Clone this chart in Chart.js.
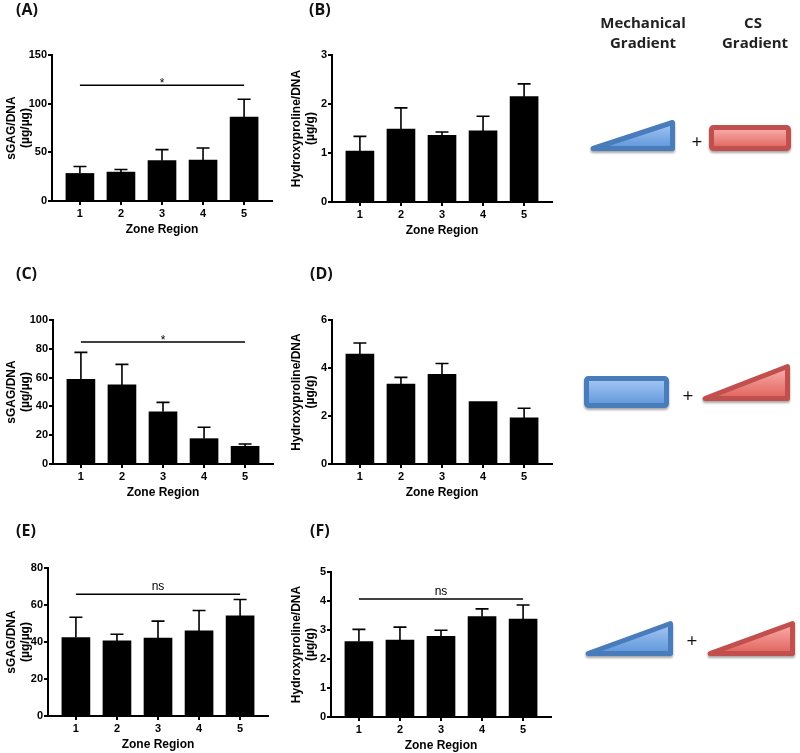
<!DOCTYPE html>
<html>
<head>
<meta charset="utf-8">
<script src="https://cdn.jsdelivr.net/npm/chart.js@4.4.1/dist/chart.umd.min.js"></script>
<style>
  body { margin: 0; background: #fff; }
  #figure { position: relative; width: 800px; height: 753px; overflow: hidden; background: #fff; }
  #figure canvas { position: absolute; }
  #figure svg { position: absolute; left: 0; top: 0; pointer-events: none; }
</style>
</head>
<body>
<div id="figure">
  <canvas id="chartA"></canvas>
  <canvas id="chartB"></canvas>
  <canvas id="chartC"></canvas>
  <canvas id="chartD"></canvas>
  <canvas id="chartE"></canvas>
  <canvas id="chartF"></canvas>
  <svg width="800" height="753">
    <defs>
      <linearGradient id="blueFill" x1="0" y1="0" x2="0" y2="1">
        <stop offset="0" stop-color="#a6c8f4"/>
        <stop offset="1" stop-color="#5f96da"/>
      </linearGradient>
      <linearGradient id="redFill" x1="0" y1="0" x2="0" y2="1">
        <stop offset="0" stop-color="#fbb0ac"/>
        <stop offset="1" stop-color="#e0635e"/>
      </linearGradient>
      <filter id="shadow" x="-10%" y="-30%" width="120%" height="170%">
        <feDropShadow dx="0" dy="2" stdDeviation="1.3" flood-opacity="0.35"/>
      </filter>
    </defs>

    <g font-family="'Open Sans', sans-serif" font-weight="bold" font-size="16" fill="#111">
      <text x="16" y="15">(A)</text>
      <text x="309" y="15">(B)</text>
      <text x="16" y="279">(C)</text>
      <text x="310" y="279">(D)</text>
      <text x="16" y="536">(E)</text>
      <text x="310" y="536">(F)</text>
    </g>

    <g font-family="'Open Sans', sans-serif" font-weight="bold" font-size="15" fill="#222" text-anchor="middle">
      <text x="643" y="28">Mechanical</text>
      <text x="643" y="48">Gradient</text>
      <text x="753" y="28">CS</text>
      <text x="755" y="48">Gradient</text>
    </g>

    <g stroke-width="5" stroke-linejoin="round" filter="url(#shadow)">
      <!-- row 1: ramp + uniform -->
      <polygon points="593,148.5 672.5,122.5 672.5,148.5" fill="url(#blueFill)" stroke="#4a7bbb"/>
      <rect x="711.5" y="127.5" width="77" height="21" rx="2" fill="url(#redFill)" stroke="#c0504d"/>
      <!-- row 2: uniform + ramp -->
      <rect x="586.5" y="378.5" width="80" height="27" rx="2" fill="url(#blueFill)" stroke="#4a7bbb"/>
      <polygon points="705,398.5 787.5,366.5 787.5,398.5" fill="url(#redFill)" stroke="#c0504d"/>
      <!-- row 3: ramp + ramp -->
      <polygon points="588,653.5 670.5,623.5 670.5,653.5" fill="url(#blueFill)" stroke="#4a7bbb"/>
      <polygon points="710,653.5 792.5,623.5 792.5,653.5" fill="url(#redFill)" stroke="#c0504d"/>
    </g>

    <g font-family="'Open Sans', sans-serif" font-size="19" fill="#111" text-anchor="middle">
      <text x="697" y="148">+</text>
      <text x="688" y="402">+</text>
      <text x="692" y="647">+</text>
    </g>
  </svg>
</div>

<script>
// Zone regions along the scaffold
const zones = ['1', '2', '3', '4', '5'];

// (A)/(B) mechanical gradient + uniform CS
const sgagA = [28.3, 29.7, 41.4, 42.0, 86.2];
const sgagAErr = [7.2, 2.7, 11.4, 12.5, 18.3];
const hypB = [1.04, 1.49, 1.36, 1.45, 2.15];
const hypBErr = [0.30, 0.43, 0.07, 0.30, 0.26];

// (C)/(D) uniform mechanics + CS gradient
const sgagC = [58.8, 54.9, 36.3, 17.6, 12.3];
const sgagCErr = [18.7, 14.3, 6.5, 7.9, 1.6];
const hypD = [4.58, 3.33, 3.74, 2.60, 1.92];
const hypDErr = [0.46, 0.28, 0.45, 0, 0.40];

// (E)/(F) both gradients
const sgagE = [42.4, 40.6, 42.1, 46.0, 54.1];
const sgagEErr = [11.0, 3.6, 9.2, 11.0, 8.9];
const hypF = [2.60, 2.65, 2.78, 3.46, 3.38];
const hypFErr = [0.42, 0.45, 0.21, 0.27, 0.48];

// significance bars (zone 1 vs zone 5)
const sigA = { value: 119, label: '*' };
const sigC = { value: 84.7, label: '*' };
const sigE = { value: 65.8, label: 'ns' };
const sigF = { value: 4.07, label: 'ns' };

const sgagTitle = ['sGAG/DNA', '(µg/µg)'];
const hypTitle = ['Hydroxyproline/DNA', '(µg/g)'];

// where each canvas sits on the page
const boxes = {
    chartA: { x: 4, y: 43, yw: 48, plotH: 146 },
    chartB: { x: 289, y: 43, yw: 43, plotH: 147 },
    chartC: { x: 4, y: 308, yw: 49, plotH: 144 },
    chartD: { x: 289, y: 308, yw: 43, plotH: 144 },
    chartE: { x: 4, y: 556, yw: 44, plotH: 148 },
    chartF: { x: 289, y: 560, yw: 42, plotH: 145 }
};
const PLOT_W = 220;
const PAD_TOP = 12;
const X_AXIS_H = 36;

const axisFont = { family: "'Liberation Sans', Arial, sans-serif", weight: 'bold', size: 11 };

// upper SEM whiskers
const errorBars = {
    id: 'errorBars',
    afterDatasetsDraw(chart) {
        const { ctx, scales: { x, y } } = chart;
        const ds = chart.data.datasets[0];
        ctx.save();
        ctx.strokeStyle = '#000';
        ctx.lineWidth = 1.6;
        ds.data.forEach((pt, i) => {
            const e = ds.errors[i];
            if (!e) return;
            const px = x.getPixelForValue(pt.x);
            const y0 = y.getPixelForValue(pt.y);
            const y1 = y.getPixelForValue(pt.y + e);
            ctx.beginPath();
            ctx.moveTo(px, y0);
            ctx.lineTo(px, y1);
            ctx.moveTo(px - 6.5, y1);
            ctx.lineTo(px + 6.5, y1);
            ctx.stroke();
        });
        ctx.restore();
    }
};

// horizontal comparison line with star / ns
const sigLine = {
    id: 'sigLine',
    afterDatasetsDraw(chart, args, opts) {
        if (opts.value == null) return;
        const { ctx, scales: { x, y } } = chart;
        const yp = y.getPixelForValue(opts.value);
        const x1 = x.getPixelForValue(1);
        const x5 = x.getPixelForValue(zones.length);
        ctx.save();
        ctx.strokeStyle = '#000';
        ctx.lineWidth = 1.5;
        ctx.beginPath();
        ctx.moveTo(x1, yp);
        ctx.lineTo(x5, yp);
        ctx.stroke();
        ctx.fillStyle = '#000';
        ctx.font = "12px 'Liberation Sans', Arial, sans-serif";
        ctx.textAlign = 'center';
        ctx.textBaseline = 'alphabetic';
        const base = opts.label === '*' ? yp + 2 : yp - 4;
        ctx.fillText(opts.label, x.getPixelForValue(3), base);
        ctx.restore();
    }
};

function makePanel(id, values, errors, yMax, yStep, title, sig) {
    const b = boxes[id];
    const cv = document.getElementById(id);
    cv.width = b.yw + PLOT_W + 2;
    cv.height = PAD_TOP + b.plotH + X_AXIS_H;
    cv.style.left = b.x + 'px';
    cv.style.top = b.y + 'px';

    return new Chart(cv, {
        type: 'bar',
        data: {
            datasets: [{
                data: values.map((v, i) => ({ x: i + 1, y: v })),
                errors: errors,
                backgroundColor: '#000',
                borderWidth: 0,
                barThickness: 28
            }]
        },
        options: {
            responsive: false,
            animation: false,
            layout: { padding: { top: PAD_TOP, right: 2, left: 0, bottom: 0 } },
            plugins: {
                legend: { display: false },
                tooltip: { enabled: false },
                sigLine: sig || false
            },
            scales: {
                x: {
                    type: 'linear',
                    min: 0.32,
                    max: 5.68,
                    offset: false,
                    afterBuildTicks: s => { s.ticks = zones.map((z, i) => ({ value: i + 1 })); },
                    afterFit: s => { s.height = X_AXIS_H; },
                    border: { color: '#000', width: 2 },
                    grid: { offset: false, drawOnChartArea: false, drawTicks: true, tickLength: 4, color: '#000', lineWidth: 2 },
                    ticks: {
                        callback: (v, i) => zones[i],
                        font: axisFont,
                        color: '#000',
                        padding: 2,
                        maxRotation: 0
                    },
                    title: {
                        display: true,
                        text: 'Zone Region',
                        font: { family: axisFont.family, weight: 'bold', size: 12, lineHeight: 1.2 },
                        color: '#000',
                        padding: 0
                    }
                },
                y: {
                    min: 0,
                    max: yMax,
                    afterFit: s => { s.width = b.yw; },
                    border: { color: '#000', width: 2 },
                    grid: { drawOnChartArea: false, drawTicks: true, tickLength: 4, color: '#000', lineWidth: 2 },
                    ticks: { stepSize: yStep, font: axisFont, color: '#000', padding: 1 },
                    title: {
                        display: true,
                        text: title,
                        font: { family: axisFont.family, weight: 'bold', size: 12, lineHeight: 1.2 },
                        color: '#000',
                        padding: 0
                    }
                }
            }
        },
        plugins: [errorBars, sigLine]
    });
}

makePanel('chartA', sgagA, sgagAErr, 150, 50, sgagTitle, sigA);
makePanel('chartB', hypB, hypBErr, 3, 1, hypTitle, null);
makePanel('chartC', sgagC, sgagCErr, 100, 20, sgagTitle, sigC);
makePanel('chartD', hypD, hypDErr, 6, 2, hypTitle, null);
makePanel('chartE', sgagE, sgagEErr, 80, 20, sgagTitle, sigE);
makePanel('chartF', hypF, hypFErr, 5, 1, hypTitle, sigF);
</script>
</body>
</html>
